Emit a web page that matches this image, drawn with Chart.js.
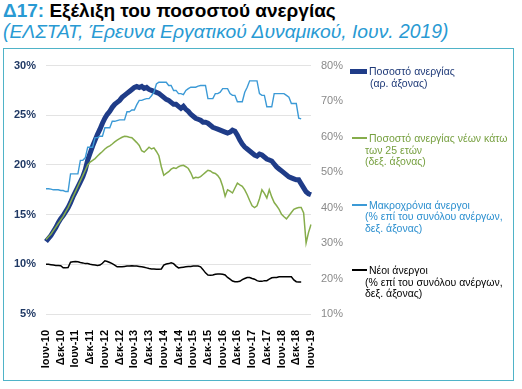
<!DOCTYPE html>
<html>
<head>
<meta charset="utf-8">
<script src="https://cdn.jsdelivr.net/npm/chart.js@4"></script>
<style>
  body { margin: 0; background: #fff; width: 522px; height: 389px; overflow: hidden; position: relative; font-family: "Liberation Sans", Arial, sans-serif; }
  #title { position: absolute; left: 3px; top: 0px; font-size: 19px; font-weight: bold; color: #000; white-space: nowrap; }
  #title span { color: #299ad3; }
  #subtitle { position: absolute; left: 3px; top: 21px; font-size: 19.3px; font-style: italic; color: #299ad3; white-space: nowrap; }
  #frame { position: absolute; left: 3px; top: 48px; width: 509px; height: 331px; border: 1.5px solid #4fb3c8; }
  #wrap { position: absolute; left: 4px; top: 49px; width: 356px; height: 330px; }
  .mk { position: absolute; left: 352px; width: 15px; height: 2px; }
  .lg { position: absolute; font-size: 10.5px; line-height: 11.5px; white-space: nowrap; }
</style>
</head>
<body>
<div id="title"><span>Δ17:</span> Εξέλιξη του ποσοστού ανεργίας</div>
<div id="subtitle">(ΕΛΣΤΑΤ, Έρευνα Εργατικού Δυναμικού, Ιουν. 2019)</div>
<div id="frame"></div>
<div id="wrap"><canvas id="chart"></canvas></div>

<div class="mk" style="left:350px;width:17px;height:5px;top:69px;background:#1f3c88"></div>
<div class="lg" style="left:369px;top:66px;color:#1f3a78">Ποσοστό ανεργίας</div>
<div class="lg" style="left:370px;top:78px;color:#1f3a78">(αρ. άξονας)</div>

<div class="mk" style="top:137px;background:#86ad4b"></div>
<div class="lg" style="left:369px;top:133px;color:#77a040">Ποσοστό ανεργίας νέων κάτω</div>
<div class="lg" style="left:365px;top:144.5px;color:#77a040">των 25 ετών</div>
<div class="lg" style="left:365px;top:156px;color:#77a040">(δεξ. άξονας)</div>

<div class="mk" style="top:204px;background:#3c9ad6"></div>
<div class="lg" style="left:369px;top:199.5px;color:#2b8fcf">Μακροχρόνια άνεργοι</div>
<div class="lg" style="left:365px;top:211px;color:#2b8fcf">(% επί του συνόλου ανέργων,</div>
<div class="lg" style="left:365px;top:222.5px;color:#2b8fcf">δεξ. άξονας)</div>

<div class="mk" style="top:269px;background:#000"></div>
<div class="lg" style="left:369px;top:265px;color:#000">Νέοι άνεργοι</div>
<div class="lg" style="left:365px;top:276.5px;color:#000">(% επί του συνόλου ανέργων,</div>
<div class="lg" style="left:365px;top:288px;color:#000">δεξ. άξονας)</div>

<script>
// monthly, Jun 2010 - Jun 2019
const monthNames = ['Ιαν', 'Φεβ', 'Μαρ', 'Απρ', 'Μαϊ', 'Ιουν', 'Ιουλ', 'Αυγ', 'Σεπ', 'Οκτ', 'Νοε', 'Δεκ'];
const startYear = 2010, startMonth = 5, nMonths = 109;

// unemployment rate, left axis
const unemployment = [
  12.3, 12.6, 12.9, 13.3, 13.7, 14.2, 14.6, 14.9, 15.3, 15.7,
  16.2, 16.8, 17.3, 17.8, 18.3, 18.8, 19.5, 20.5, 21.2, 21.9,
  22.5, 23.1, 23.6, 24.2, 24.7, 25.1, 25.4, 25.8, 26.1, 26.3,
  26.5, 26.8, 27.0, 27.2, 27.4, 27.6, 27.8, 27.9, 27.8, 27.9,
  27.7, 27.8, 27.6, 27.5, 27.4, 27.3, 27.2, 27.0, 26.8, 26.6,
  26.5, 26.3, 26.1, 26.1, 25.9, 25.7, 25.9, 25.6, 25.4, 25.1,
  24.9, 24.7, 24.6, 24.5, 24.3, 24.3, 24.2, 24.0, 23.8, 23.7,
  23.6, 23.5, 23.4, 23.3, 23.2, 23.3, 23.5, 23.4, 23.0, 22.5,
  22.1, 21.8, 21.6, 21.4, 21.2, 21.0, 20.9, 21.1, 21.0, 20.8,
  20.6, 20.5, 20.4, 20.1, 19.8, 19.6, 19.4, 19.2, 19.0, 18.8,
  18.7, 18.6, 18.5, 18.5, 18.1, 17.7, 17.3, 17.1, 17.0
];

// youth (<25) unemployment rate, right axis
const youth = [
  31.0, 31.8, 32.5, 33.5, 34.5, 35.5, 36.5, 37.5, 38.8, 40.0,
  41.5, 43.0, 44.5, 46.0, 47.5, 49.0, 50.5, 52.0, 52.8, 53.3,
  53.8, 54.5, 55.2, 55.8, 56.5, 57.0, 57.4, 57.9, 58.5, 59.0,
  59.4, 59.8, 60.1, 60.0, 59.8, 59.7, 59.0, 58.3, 57.5, 56.0,
  55.6, 56.3, 57.0, 56.5, 56.8, 55.8, 54.6, 51.5, 49.1, 49.6,
  50.1, 50.8, 51.2, 51.0, 51.5, 51.8, 51.9, 51.5, 51.0, 49.8,
  48.2, 48.5, 48.4, 48.7, 49.3, 49.9, 50.5, 50.3, 49.8, 49.6,
  49.0, 48.0, 46.0, 43.2, 45.0, 44.6, 44.1, 45.5, 46.9, 46.4,
  46.0, 45.0, 43.6, 42.0, 40.5, 40.0, 40.5, 42.5, 45.0, 44.0,
  42.7, 45.0, 43.0, 41.4, 40.5, 39.5, 38.1, 37.4, 36.8, 37.7,
  38.6, 39.5, 39.8, 40.0, 40.0, 38.5, 30.0, 33.0, 35.2
];

// long-term unemployed, % of unemployed, right axis
const longTerm = [
  45.3, 45.3, 45.2, 45.0, 45.0, 45.0, 44.8, 44.8, 44.5, 44.5,
  49.5, 49.5, 49.5, 49.5, 53.3, 53.3, 54.0, 57.0, 57.0, 57.0,
  59.7, 59.7, 60.1, 60.1, 62.5, 62.5, 62.5, 64.3, 64.3, 64.5,
  64.7, 64.7, 64.7, 67.0, 67.0, 67.5, 67.5, 69.0, 70.2, 70.2,
  70.5, 70.7, 70.7, 71.5, 72.5, 74.8, 75.3, 75.3, 75.3, 75.3,
  74.4, 74.4, 73.0, 73.0, 72.1, 72.1, 71.8, 73.0, 73.5, 73.9,
  73.9, 73.9, 74.2, 74.4, 74.4, 74.4, 70.7, 70.7, 70.7, 72.1,
  72.1, 72.5, 73.5, 73.5, 73.5, 72.1, 71.6, 71.6, 69.8, 69.8,
  69.8, 72.5, 73.9, 75.7, 75.7, 75.7, 75.7, 72.1, 71.6, 71.6,
  68.4, 68.4, 68.4, 72.1, 72.1, 72.1, 72.1, 72.1, 71.6, 71.1,
  69.3, 69.3, 69.3, 65.2, 65.0, null, null, null, null
];

// new unemployed, % of unemployed, right axis
const newUnemployed = [
  24.0, 24.0, 23.9, 23.8, 23.7, 23.7, 23.6, 23.0, 23.0, 23.1,
  24.6, 24.7, 24.8, 24.7, 24.5, 24.4, 24.2, 24.2, 24.0, 23.9,
  23.8, 23.7, 23.8, 24.3, 25.0, 24.8, 24.5, 24.2, 23.8, 23.3,
  23.3, 23.3, 23.4, 23.5, 23.5, 23.6, 23.5, 23.5, 23.4, 23.3,
  23.2, 23.0, 22.8, 22.7, 22.7, 22.6, 22.6, 22.7, 23.8, 24.1,
  24.2, 24.4, 24.2, 23.5, 23.0, 23.1, 23.2, 23.3, 23.4, 23.4,
  23.5, 23.5, 23.5, 23.3, 22.5, 21.6, 21.0, 20.9, 21.0, 21.2,
  21.3, 21.3, 21.2, 21.0, 20.3, 19.8, 19.3, 19.1, 19.1, 19.2,
  19.7, 20.0, 20.3, 20.3, 20.0, 19.8, 19.4, 19.2, 19.2, 19.4,
  19.4, 19.8, 20.2, 20.3, 20.3, 20.5, 20.5, 20.5, 20.5, 20.5,
  20.5, 19.6, 19.1, 19.0, 19.0, null, null, null, null
];

const leftTicks = { min: 5, max: 30, step: 5 };
const rightTicks = { min: 10, max: 80, step: 10 };

const labels = [];
for (let i = 0; i < nMonths; i++) {
  const m = (startMonth + i) % 12;
  const y = startYear + Math.floor((startMonth + i) / 12);
  labels.push(monthNames[m] + '-' + String(y).slice(2));
}

const ctx = document.getElementById('chart').getContext('2d');
new Chart(ctx, {
  type: 'line',
  data: {
    labels: labels,
    datasets: [
      { label: 'Ποσοστό ανεργίας', data: unemployment, yAxisID: 'yL', borderColor: '#1f3c88', borderWidth: 5, order: 4 },
      { label: 'Ποσοστό ανεργίας νέων κάτω των 25 ετών', data: youth, yAxisID: 'yR', borderColor: '#86ad4b', borderWidth: 1.5, order: 1 },
      { label: 'Μακροχρόνια άνεργοι', data: longTerm, yAxisID: 'yR', borderColor: '#3c9ad6', borderWidth: 1.4, order: 2 },
      { label: 'Νέοι άνεργοι', data: newUnemployed, yAxisID: 'yR', borderColor: '#000', borderWidth: 1.5, order: 0 }
    ]
  },
  options: {
    responsive: true,
    maintainAspectRatio: false,
    animation: false,
    layout: { padding: { top: 10, left: 0, right: 0, bottom: 0 } },
    elements: {
      point: { radius: 0 },
      line: { tension: 0, fill: false }
    },
    plugins: {
      legend: { display: false },
      tooltip: { enabled: false }
    },
    scales: {
      x: {
        grid: { display: false },
        border: { display: false },
        ticks: {
          autoSkip: false,
          minRotation: 90,
          maxRotation: 90,
          padding: 8,
          color: '#000',
          font: { family: 'Liberation Sans', size: 11, weight: 'bold' },
          callback: function (v, i) { return i % 6 === 0 ? this.getLabelForValue(v) : ''; }
        },
        afterFit: s => { s.height = 65; }
      },
      yL: {
        position: 'left',
        min: leftTicks.min,
        max: leftTicks.max,
        grid: { color: '#e3e3e3', drawTicks: false },
        border: { display: false },
        ticks: {
          stepSize: leftTicks.step,
          padding: 10,
          color: '#1f3864',
          font: { family: 'Liberation Sans', size: 11, weight: 'bold' },
          callback: v => v + '%'
        },
        afterFit: s => { s.width = 42; }
      },
      yR: {
        position: 'right',
        min: rightTicks.min,
        max: rightTicks.max,
        grid: { drawOnChartArea: false, drawTicks: false },
        border: { display: false },
        ticks: {
          stepSize: rightTicks.step,
          padding: 10,
          color: '#8a8a8a',
          font: { family: 'Liberation Sans', size: 11 },
          callback: v => v + '%'
        },
        afterFit: s => { s.width = 49; }
      }
    }
  }
});
</script>
</body>
</html>
